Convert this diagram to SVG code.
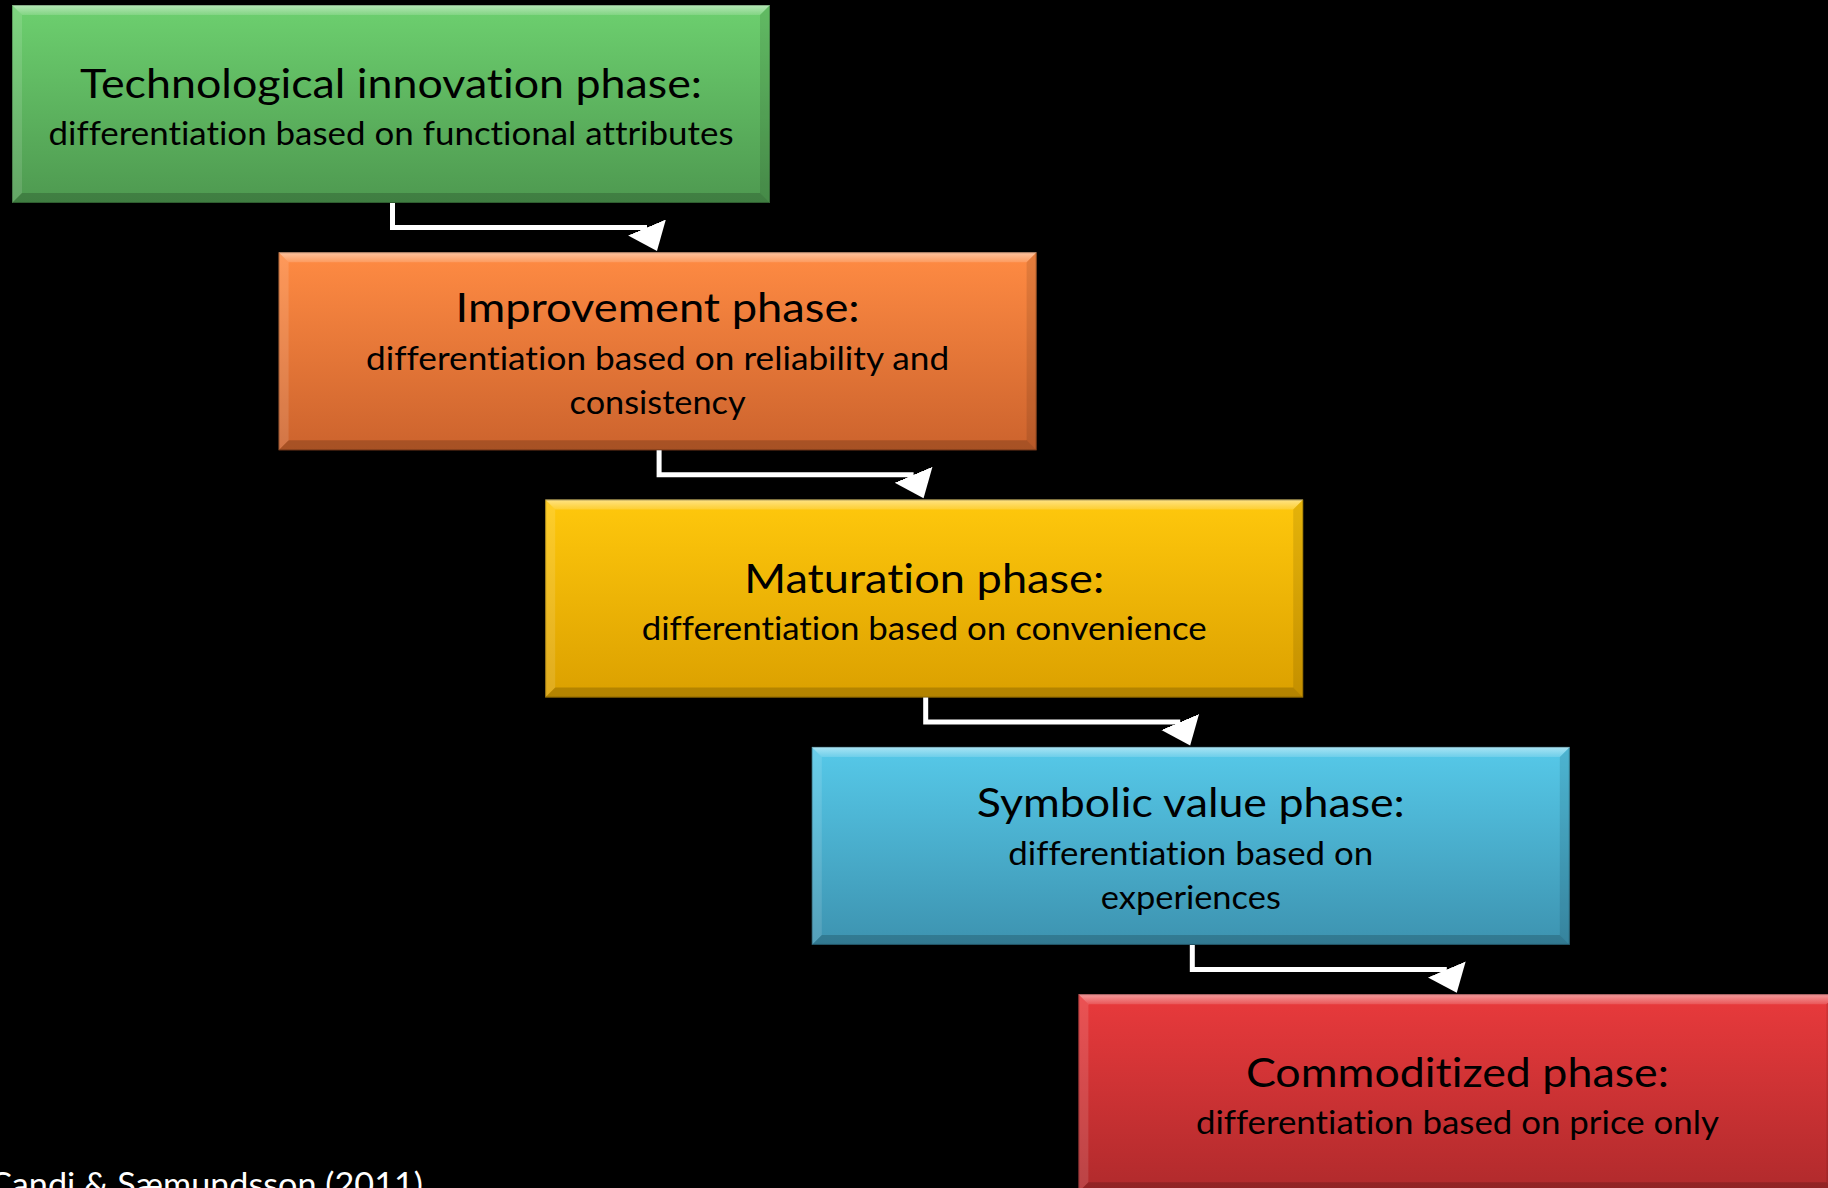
<svg xmlns="http://www.w3.org/2000/svg" xmlns:xlink="http://www.w3.org/1999/xlink" width="1828" height="1188" viewBox="0 0 1828 1188">
  <style>
    text { font-variant-ligatures: none; font-feature-settings: "liga" 0, "clig" 0, "dlig" 0; }
    .title { font-family: Lato, "Open Sans", "Liberation Sans", sans-serif; font-size: 41px; fill: #000; text-anchor: middle; }
    .sub { font-family: Lato, "Open Sans", "Liberation Sans", sans-serif; font-size: 32px; fill: #000; text-anchor: middle; }
    .credit { font-family: Lato, "Open Sans", "Liberation Sans", sans-serif; font-size: 32px; fill: #fff; }
    .link { fill: none; stroke: #fff; stroke-width: 5; stroke-linejoin: miter; marker-end: url(#arrow); }
  </style>
  <defs>
    <linearGradient id="gGreen" x1="0" y1="0" x2="0" y2="1">
      <stop offset="0" stop-color="#6dd06f"/>
      <stop offset="1" stop-color="#4e9950"/>
    </linearGradient>
    <linearGradient id="gOrange" x1="0" y1="0" x2="0" y2="1">
      <stop offset="0" stop-color="#ff8b43"/>
      <stop offset="1" stop-color="#cc632d"/>
    </linearGradient>
    <linearGradient id="gYellow" x1="0" y1="0" x2="0" y2="1">
      <stop offset="0" stop-color="#ffc80c"/>
      <stop offset="1" stop-color="#dba000"/>
    </linearGradient>
    <linearGradient id="gBlue" x1="0" y1="0" x2="0" y2="1">
      <stop offset="0" stop-color="#56c9e9"/>
      <stop offset="1" stop-color="#3d93b0"/>
    </linearGradient>
    <linearGradient id="gRed" x1="0" y1="0" x2="0" y2="1">
      <stop offset="0" stop-color="#e93a3c"/>
      <stop offset="1" stop-color="#b02a2c"/>
    </linearGradient>
    <linearGradient id="hiTop" x1="0" y1="0" x2="0" y2="1">
      <stop offset="0" stop-color="#fff" stop-opacity="0.5"/>
      <stop offset="1" stop-color="#fff" stop-opacity="0.15"/>
    </linearGradient>
    <!-- soft bevel laid over every phase box (758 x 198) -->
    <g id="bevel">
      <polygon points="0,0 758,0 748,10 10,10" fill="url(#hiTop)"/>
      <polygon points="0,0 10,10 10,188 0,198" fill="#fff" fill-opacity="0.12"/>
      <polygon points="758,0 758,198 748,188 748,10" fill="#000" fill-opacity="0.1"/>
      <polygon points="0,198 10,188 748,188 758,198" fill="#000" fill-opacity="0.18"/>
      <rect x="0.5" y="0.5" width="757" height="197" fill="none" stroke="#000" stroke-opacity="0.25"/>
    </g>
    <marker id="arrow" markerUnits="userSpaceOnUse" viewBox="0 -21 26 42" markerWidth="26" markerHeight="42" refX="0" refY="0" orient="67">
      <path d="M0,-20.5 L25.5,0 L0,20.5 Z" fill="#fff"/>
    </marker>
  </defs>

  <rect x="0" y="0" width="1828" height="1188" fill="#000"/>

  <g id="node-technological" transform="translate(12,5)">
    <rect x="0" y="0" width="758" height="198" fill="url(#gGreen)"/>
    <use xlink:href="#bevel"/>
    <text class="title" x="379" y="93" textLength="622" lengthAdjust="spacingAndGlyphs">Technological innovation phase:</text>
    <text class="sub" x="379" y="140" textLength="685" lengthAdjust="spacingAndGlyphs">differentiation based on functional attributes</text>
  </g>

  <g id="node-improvement" transform="translate(278.6,252.3)">
    <rect x="0" y="0" width="758" height="198" fill="url(#gOrange)"/>
    <use xlink:href="#bevel"/>
    <text class="title" x="379" y="70" textLength="404" lengthAdjust="spacingAndGlyphs">Improvement phase:</text>
    <text class="sub" x="379" y="118" textLength="583" lengthAdjust="spacingAndGlyphs">differentiation based on reliability and</text>
    <text class="sub" x="379" y="162" textLength="176" lengthAdjust="spacingAndGlyphs">consistency</text>
  </g>

  <g id="node-maturation" transform="translate(545.2,499.6)">
    <rect x="0" y="0" width="758" height="198" fill="url(#gYellow)"/>
    <use xlink:href="#bevel"/>
    <text class="title" x="379" y="93" textLength="360" lengthAdjust="spacingAndGlyphs">Maturation phase:</text>
    <text class="sub" x="379" y="140" textLength="565" lengthAdjust="spacingAndGlyphs">differentiation based on convenience</text>
  </g>

  <g id="node-symbolic" transform="translate(811.8,746.9)">
    <rect x="0" y="0" width="758" height="198" fill="url(#gBlue)"/>
    <use xlink:href="#bevel"/>
    <text class="title" x="379" y="70" textLength="428" lengthAdjust="spacingAndGlyphs">Symbolic value phase:</text>
    <text class="sub" x="379" y="118" textLength="365" lengthAdjust="spacingAndGlyphs">differentiation based on</text>
    <text class="sub" x="379" y="162" textLength="180" lengthAdjust="spacingAndGlyphs">experiences</text>
  </g>

  <g id="node-commoditized" transform="translate(1078.4,994.2)">
    <rect x="0" y="0" width="758" height="198" fill="url(#gRed)"/>
    <use xlink:href="#bevel"/>
    <text class="title" x="379" y="93" textLength="423" lengthAdjust="spacingAndGlyphs">Commoditized phase:</text>
    <text class="sub" x="379" y="140" textLength="523" lengthAdjust="spacingAndGlyphs">differentiation based on price only</text>
  </g>

  <g id="connectors">
    <path class="link" d="M392.5,203 V227.5 H647"/>
    <path class="link" d="M659.1,450.3 V474.8 H913.6"/>
    <path class="link" d="M925.7,697.6 V722.1 H1180.2"/>
    <path class="link" d="M1192.3,944.9 V969.4 H1446.8"/>
  </g>

  <text class="credit" x="-11" y="1196" textLength="434" lengthAdjust="spacingAndGlyphs">Candi &amp; Sæmundsson (2011)</text>
</svg>
